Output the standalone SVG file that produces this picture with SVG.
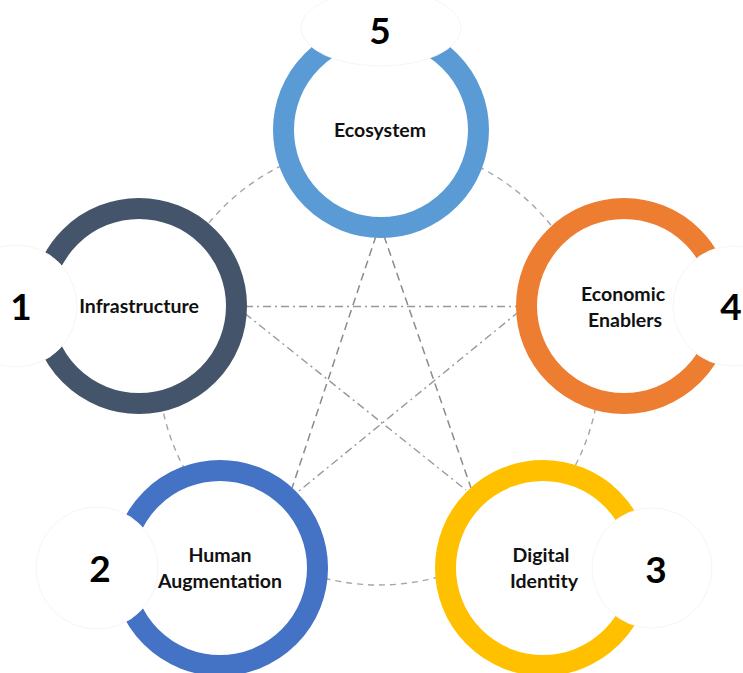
<svg xmlns="http://www.w3.org/2000/svg" width="743" height="673" viewBox="0 0 743 673">
<style>
.ring{fill:#ffffff;stroke-width:21}
.cover{fill:#ffffff;stroke:#f5f5f5;stroke-width:1}
.lbl{font-family:Lato,"Open Sans","Liberation Sans",sans-serif;font-weight:700;font-size:19.5px;fill:#111111;text-anchor:middle}
.num{font-family:Lato,"Open Sans","Liberation Sans",sans-serif;font-weight:700;font-size:37px;fill:#000000;text-anchor:middle}
.dash{fill:none;stroke:#8c8c8c;stroke-width:1.5;stroke-dasharray:8 5}
.dashdot{fill:none;stroke:#999999;stroke-width:1.4;stroke-dasharray:8 4 2 4}
.circ{fill:none;stroke:#a6a6a6;stroke-width:1.4;stroke-dasharray:6 5}
</style>
<rect width="743" height="673" fill="#ffffff"/>
<g id="connectors">
<circle class="circ" cx="379" cy="364" r="221"/>
<line class="dash" x1="376" y1="236" x2="292" y2="488"/>
<line class="dash" x1="384" y1="236" x2="471" y2="488"/>
<line class="dashdot" x1="245" y1="306.5" x2="519" y2="306.5"/>
<line class="dashdot" x1="245" y1="313.5" x2="466" y2="490"/>
<line class="dashdot" x1="519" y1="311.5" x2="299" y2="491"/>
</g>
<g id="node-ecosystem">
<circle class="ring" cx="381" cy="130" r="97.5" stroke="#5B9BD5"/>
<ellipse class="cover" cx="381" cy="28" rx="80" ry="38"/>
<text class="num" x="380" y="44">5</text>
<text class="lbl" x="380" y="137">Ecosystem</text>
</g>
<g id="node-infrastructure">
<circle class="ring" cx="139" cy="306" r="97.5" stroke="#44546A"/>
<circle class="cover" cx="16" cy="306" r="61"/>
<text class="num" x="21" y="320">1</text>
<text class="lbl" x="139" y="313">Infrastructure</text>
</g>
<g id="node-economic-enablers">
<circle class="ring" cx="624" cy="306" r="97.5" stroke="#ED7D31"/>
<circle class="cover" cx="733" cy="306" r="60"/>
<text class="num" x="731" y="320">4</text>
<text class="lbl" x="623" y="301">Economic</text>
<text class="lbl" x="625" y="327">Enablers</text>
</g>
<g id="node-human-augmentation">
<circle class="ring" cx="220" cy="568" r="97.5" stroke="#4472C4"/>
<circle class="cover" cx="97" cy="568" r="61"/>
<text class="num" x="100" y="582">2</text>
<text class="lbl" x="220" y="562">Human</text>
<text class="lbl" x="220" y="588">Augmentation</text>
</g>
<g id="node-digital-identity">
<circle class="ring" cx="543" cy="568" r="97.5" stroke="#FFC000"/>
<circle class="cover" cx="652" cy="568" r="60"/>
<text class="num" x="656" y="583">3</text>
<text class="lbl" x="541" y="562">Digital</text>
<text class="lbl" x="544" y="588">Identity</text>
</g>
</svg>
